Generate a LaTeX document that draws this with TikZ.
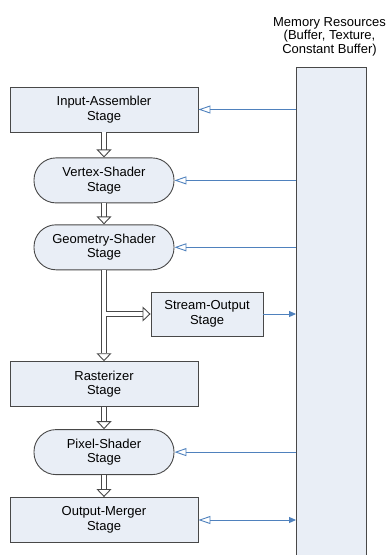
\documentclass[tikz,border=0pt]{standalone}
\usepackage{fontspec}
\setmainfont{Liberation Sans}
\usetikzlibrary{arrows.meta,positioning,calc}
\definecolor{corfundo}{RGB}{233,238,246}
\definecolor{corborda}{RGB}{72,72,72}
\definecolor{corazul}{RGB}{79,129,189}

\begin{document}
\begin{tikzpicture}[
  x=1pt, y=-1pt,
  caixa/.style={rectangle, draw=corborda, line width=0.9pt, fill=corfundo,
                minimum width=188pt, minimum height=45pt, inner sep=1pt,
                align=center, font=\fontsize{13}{14.5}\selectfont},
  capsula/.style={caixa, rounded corners=22pt, minimum width=140pt},
  tubo/.style={draw=corborda, line width=0.9pt, double=white, double distance=4pt,
               -{Triangle[open, length=8pt, width=15pt]}},
  seta/.style={draw=corazul, line width=0.9pt,
               -{Triangle[open, length=12pt, width=8pt]}},
  setacheia/.style={draw=corazul, line width=0.9pt,
                    -{Triangle[length=7pt, width=6pt]}}
]
  \useasboundingbox (0,0) rectangle (387,555);
  \clip (0,0) rectangle (387,555);

  % pipeline stages
  \node[caixa] (ia) at (104,109.5) {Input-Assembler\\Stage};
  \node[capsula, below=25pt of ia] (vs) {Vertex-Shader\\Stage};
  \node[capsula, below=21pt of vs] (gs) {Geometry-Shader\\Stage};
  \node[caixa, below=91pt of gs] (rast) {Rasterizer\\Stage};
  \node[capsula, below=22pt of rast] (ps) {Pixel-Shader\\Stage};
  \node[caixa, below=22pt of ps] (om) {Output-Merger\\Stage};
  \node[caixa, minimum width=112pt, minimum height=44pt] (so) at (207,314) {Stream-Output\\Stage};

  % memory
  \node[draw=corborda, line width=0.9pt, fill=corfundo, minimum width=70pt,
        minimum height=520pt, anchor=north] (mem) at (331.5,67) {};
  \node[above=11pt of mem, xshift=-2pt, inner sep=0pt, align=center,
        font=\fontsize{13}{13.5}\selectfont] (memtxt) {Memory Resources\\(Buffer, Texture,\\Constant Buffer)};

  \draw[tubo] (ia) -- (vs);
  \draw[tubo] (vs) -- (gs);
  \draw[tubo] (gs) -- (rast);
  \coordinate (split) at (gs.south |- so.west);
  \draw[tubo] ([xshift=2pt]split) -- (so.west);
  \draw[tubo] (rast) -- (ps);
  \draw[tubo] (ps) -- (om);

  \draw[seta] (mem.west |- ia.east) -- (ia.east);
  \draw[seta] (mem.west |- vs.east) -- (vs.east);
  \draw[seta] (mem.west |- gs.east) -- (gs.east);
  \draw[setacheia] (so.east) -- (so.east -| mem.west);
  \draw[seta] (mem.west |- ps.east) -- (ps.east);
  \draw[draw=corazul, line width=0.9pt,
        {Triangle[open, length=12pt, width=8pt]}-{Triangle[length=7pt, width=6pt]}]
        (om.east) -- (om.east -| mem.west);
\end{tikzpicture}
\end{document}
